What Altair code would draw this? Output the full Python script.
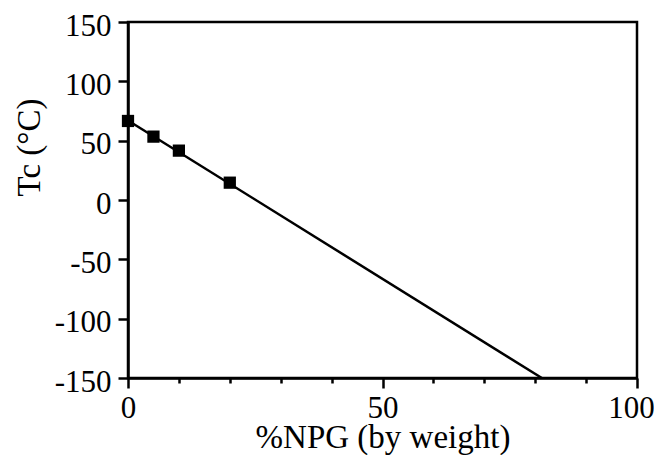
import altair as alt
import pandas as pd

# measured points
npg = [0, 5, 10, 20]
tc = [66.6, 53.4, 41.6, 14.6]

# straight fit line drawn through the points (end points)
fit_x = [0, 81.3]
fit_y = [67.0, -150.0]

x_ticks = [0, 10, 20, 30, 40, 50, 60, 70, 80, 90, 100]
y_ticks = [-150, -100, -50, 0, 50, 100, 150]

pts = pd.DataFrame({"npg": npg, "tc": tc})
fit = pd.DataFrame({"npg": fit_x, "tc": fit_y})

FONT = "Liberation Serif"
FS = 31
TFS = 33

xs = alt.Scale(domain=[0, 100], nice=False, zero=False)
ys = alt.Scale(domain=[-150, 150], nice=False, zero=False)

xaxis = alt.Axis(
    values=x_ticks,
    labelExpr="datum.value % 50 === 0 ? '' + datum.value : ''",
    tickSize={"expr": "datum.value % 50 === 0 ? 10 : 5"},
    labelOffset={"expr": "datum.value === 100 ? -6 : 0"},
    tickWidth=2.5, tickColor="black",
    domainColor="black", domainWidth=2.5,
    grid=False,
    labelFont=FONT, labelFontSize=FS, labelColor="black",
    labelPadding=5, labelFlush=False, labelOverlap=False,
    title="%NPG (by weight)", titleFont=FONT, titleFontSize=TFS,
    titleFontWeight="normal", titleColor="black",
    titleY=69, titleBaseline="alphabetic",
)
yaxis = alt.Axis(
    values=y_ticks,
    labelExpr="'' + datum.value",
    tickSize=10, tickWidth=2.5, tickColor="black",
    domainColor="black", domainWidth=2.5,
    grid=False,
    labelFont=FONT, labelFontSize=FS, labelColor="black",
    labelPadding=7, labelFlush=False, labelOverlap=False,
    labelOffset=4,
    title="Tc  (°C)", titleFont=FONT, titleFontSize=TFS,
    titleFontWeight="normal", titleColor="black",
    titleAngle=-90, titleX=-99, titleY=125,
    titleAlign="center", titleBaseline="middle",
)

line = alt.Chart(fit).mark_line(color="black", strokeWidth=2.5).encode(
    x=alt.X("npg:Q", scale=xs, axis=xaxis),
    y=alt.Y("tc:Q", scale=ys, axis=yaxis),
)
points = alt.Chart(pts).mark_square(color="black", size=150, opacity=1).encode(
    x=alt.X("npg:Q", scale=xs),
    y=alt.Y("tc:Q", scale=ys),
)

chart = (line + points).properties(
    width=509, height=356,
    padding={"left": 120, "top": 14, "right": 17, "bottom": 77},
    autosize=alt.AutoSizeParams(type="none"),
    background="white",
).configure_view(stroke="black", strokeWidth=2.5)

chart.save("out.html", embed_options={"renderer": "svg", "actions": False})
